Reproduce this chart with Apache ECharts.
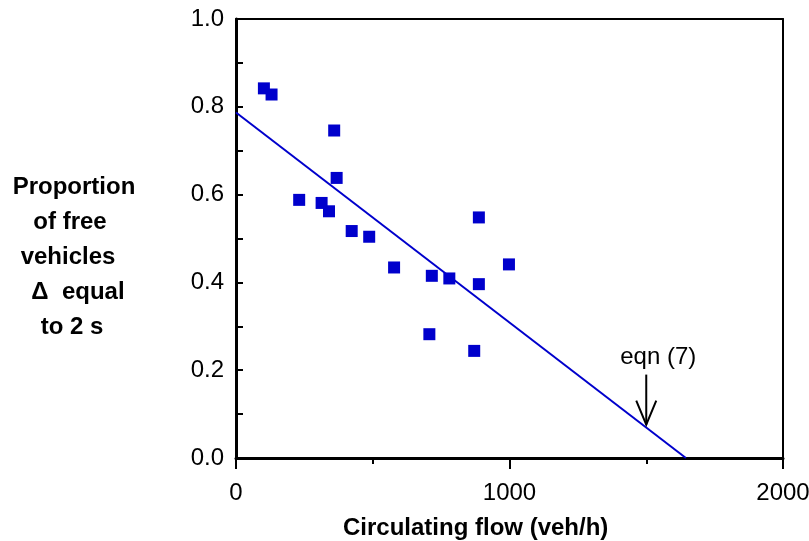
<!DOCTYPE html>
<html>
<head>
<meta charset="utf-8">
<script src="https://cdn.jsdelivr.net/npm/echarts@6/dist/echarts.min.js"></script>
<style>html,body{margin:0;padding:0;background:#fff;}#c{width:809px;height:541px;}</style>
</head>
<body>
<div id="c"></div>
<script>
// circulating flow (veh/h)
var flowValues = [102, 130, 359, 368, 231, 313, 340, 423, 487, 578, 716, 780, 888, 888, 998, 707, 871];
// proportion of free vehicles
var propValues = [0.842, 0.828, 0.746, 0.638, 0.588, 0.581, 0.562, 0.517, 0.504, 0.434, 0.415, 0.409, 0.548, 0.396, 0.441, 0.282, 0.244];
// fitted line endpoints (flow, proportion)
var lineFlow = [0, 1645];
var lineProp = [0.787, 0];
// eqn (7) annotation: flow, arrow top, arrow tip
var eqnFlow = 1500;
var eqnTop = 0.19;
var eqnTip = 0.076;
var xTicks = [0, 1000, 2000];
var yTicks = [0.0, 0.2, 0.4, 0.6, 0.8, 1.0];
var yTitleLines = ['Proportion', 'of free', 'vehicles', '\u0394  equal', 'to 2 s'];
var xTitle = 'Circulating flow (veh/h)';

var pts = flowValues.map(function (f, i) { return [f, propValues[i]]; });
var linePts = lineFlow.map(function (f, i) { return [f, lineProp[i]]; });
var blue = '#0000CC';
var font = '"Liberation Sans", Arial, sans-serif';

var chart = echarts.init(document.getElementById('c'), null, {renderer: 'canvas'});
var option = {
  animation: false,
  backgroundColor: '#fff',
  grid: {left: 236, top: 19, width: 547, height: 439, containLabel: false, outerBoundsMode: 'none'},
  xAxis: [{
    type: 'value', min: 0, max: 2000, interval: 1000,
    axisLine: {show: true, onZero: false, lineStyle: {color: '#000', width: 3}},
    axisTick: {show: true, inside: false, length: 11, lineStyle: {color: '#000', width: 2}},
    minorTick: {show: true, splitNumber: 2, length: 6, lineStyle: {color: '#000', width: 2}},
    splitLine: {show: false},
    axisLabel: {
      color: '#000', fontSize: 24, fontFamily: font, margin: 23,
      formatter: function (v) { return xTicks.indexOf(v) >= 0 ? String(v) : ''; }
    }
  }, {
    type: 'value', position: 'top', min: 0, max: 2000,
    axisLine: {show: true, onZero: false, lineStyle: {color: '#000', width: 2}},
    axisTick: {show: false}, axisLabel: {show: false}, splitLine: {show: false}
  }],
  yAxis: [{
    type: 'value', min: 0, max: 1, interval: 0.2,
    axisLine: {show: true, onZero: false, lineStyle: {color: '#000', width: 3}},
    axisTick: {show: true, inside: true, length: 7, lineStyle: {color: '#000', width: 2}},
    minorTick: {show: true, splitNumber: 2, length: 7, lineStyle: {color: '#000', width: 2}},
    splitLine: {show: false},
    axisLabel: {
      color: '#000', fontSize: 24, fontFamily: font, margin: 12,
      formatter: function (v) { return v.toFixed(1); }
    }
  }, {
    type: 'value', position: 'right', min: 0, max: 1,
    axisLine: {show: true, onZero: false, lineStyle: {color: '#000', width: 2}},
    axisTick: {show: false}, axisLabel: {show: false}, splitLine: {show: false}
  }],
  series: [{
    type: 'line', data: linePts, symbol: 'none', silent: true,
    lineStyle: {color: blue, width: 2}, z: 2
  }, {
    type: 'scatter', data: pts, symbol: 'rect', symbolSize: 12,
    itemStyle: {color: blue, opacity: 1}, z: 3
  }]
};
chart.setOption(option);

var titleXs = [74, 70, 68, 78, 72];
var gfx = [];
yTitleLines.forEach(function (t, i) {
  gfx.push({
    type: 'text', x: titleXs[i], y: 187 + i * 35,
    style: {text: t, fill: '#000', font: 'bold 24px ' + font, textAlign: 'center', textVerticalAlign: 'middle'}
  });
});
gfx.push({
  type: 'text', x: 343, y: 528,
  style: {text: xTitle, fill: '#000', font: 'bold 24px ' + font, textAlign: 'left', textVerticalAlign: 'middle'}
});
var pTop = chart.convertToPixel({xAxisIndex: 0, yAxisIndex: 0}, [eqnFlow, eqnTop]);
var pTip = chart.convertToPixel({xAxisIndex: 0, yAxisIndex: 0}, [eqnFlow, eqnTip]);
gfx.push({
  type: 'polyline', shape: {points: [[pTop[0], pTop[1]], [pTip[0], pTip[1]]]},
  style: {stroke: '#000', lineWidth: 2, fill: null}, z: 10
});
gfx.push({
  type: 'polyline', shape: {points: [[pTip[0] - 10, pTip[1] - 24], [pTip[0], pTip[1]], [pTip[0] + 10, pTip[1] - 24]]},
  style: {stroke: '#000', lineWidth: 2, fill: null}, z: 10
});
gfx.push({
  type: 'text', x: pTip[0] + 12, y: pTop[1] - 17,
  style: {text: 'eqn (7)', fill: '#000', font: '24px ' + font, textAlign: 'center', textVerticalAlign: 'middle'}, z: 10
});
chart.setOption({graphic: gfx});
</script>
</body>
</html>
